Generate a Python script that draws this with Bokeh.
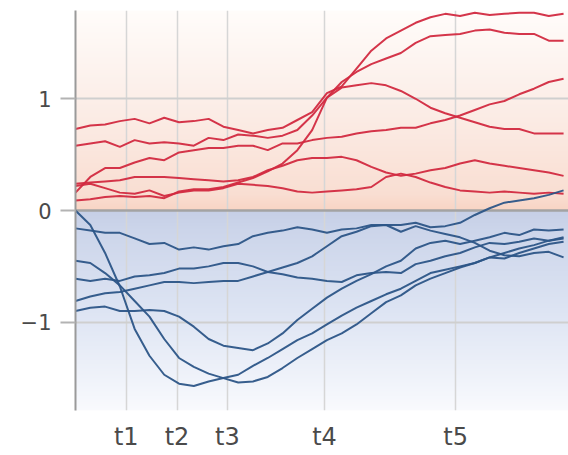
import numpy as np
from bokeh.plotting import figure
from bokeh.models import Range1d, FixedTicker
from bokeh.embed import file_html
from bokeh.resources import INLINE

# ---------------- data ----------------
t = list(range(0, 100, 3))  # sample times (34 points)

red_1 = [0.73, 0.76, 0.77, 0.80, 0.82, 0.78, 0.83, 0.79, 0.80, 0.82, 0.75, 0.72, 0.69, 0.72, 0.74, 0.81, 0.88,
         1.05, 1.11, 1.27, 1.43, 1.54, 1.61, 1.68, 1.73, 1.76, 1.74, 1.77, 1.75, 1.76, 1.77, 1.77, 1.74, 1.76]
red_2 = [0.58, 0.60, 0.62, 0.57, 0.63, 0.60, 0.61, 0.60, 0.58, 0.65, 0.63, 0.68, 0.67, 0.65, 0.67, 0.72, 0.85,
         1.01, 1.15, 1.24, 1.31, 1.36, 1.41, 1.50, 1.56, 1.57, 1.58, 1.61, 1.62, 1.59, 1.58, 1.58, 1.52, 1.52]
red_3 = [0.16, 0.30, 0.38, 0.38, 0.43, 0.47, 0.45, 0.52, 0.54, 0.56, 0.56, 0.58, 0.58, 0.54, 0.60, 0.60, 0.63,
         0.65, 0.66, 0.69, 0.71, 0.72, 0.74, 0.74, 0.78, 0.81, 0.85, 0.90, 0.95, 0.98, 1.04, 1.09, 1.15, 1.18]
red_4 = [0.09, 0.10, 0.12, 0.13, 0.12, 0.13, 0.11, 0.17, 0.19, 0.19, 0.21, 0.25, 0.29, 0.35, 0.42, 0.54, 0.72,
         1.01, 1.10, 1.12, 1.14, 1.12, 1.07, 1.00, 0.92, 0.87, 0.83, 0.79, 0.75, 0.73, 0.73, 0.69, 0.69, 0.69]
red_5 = [0.24, 0.25, 0.26, 0.27, 0.30, 0.30, 0.30, 0.29, 0.28, 0.27, 0.26, 0.27, 0.30, 0.36, 0.40, 0.45, 0.47,
         0.47, 0.48, 0.45, 0.39, 0.34, 0.31, 0.33, 0.36, 0.38, 0.42, 0.45, 0.42, 0.40, 0.38, 0.36, 0.34, 0.31]
red_6 = [0.22, 0.24, 0.20, 0.16, 0.15, 0.18, 0.13, 0.16, 0.18, 0.18, 0.20, 0.24, 0.23, 0.22, 0.20, 0.17, 0.16,
         0.17, 0.18, 0.19, 0.21, 0.30, 0.33, 0.30, 0.25, 0.21, 0.18, 0.17, 0.16, 0.17, 0.16, 0.15, 0.16, 0.15]

blue_1 = [-0.16, -0.18, -0.20, -0.20, -0.25, -0.30, -0.29, -0.35, -0.33, -0.35, -0.32, -0.30, -0.23, -0.20, -0.18,
          -0.15, -0.17, -0.20, -0.17, -0.16, -0.13, -0.13, -0.13, -0.11, -0.15, -0.14, -0.11, -0.04, 0.02, 0.07,
          0.09, 0.11, 0.14, 0.18]
blue_2 = [-0.61, -0.63, -0.61, -0.63, -0.59, -0.58, -0.56, -0.52, -0.52, -0.50, -0.47, -0.47, -0.50, -0.55, -0.57,
          -0.60, -0.61, -0.63, -0.64, -0.58, -0.56, -0.55, -0.56, -0.48, -0.45, -0.41, -0.38, -0.33, -0.29, -0.30,
          -0.28, -0.25, -0.27, -0.25]
blue_3 = [-0.81, -0.77, -0.74, -0.73, -0.70, -0.67, -0.64, -0.64, -0.65, -0.64, -0.63, -0.63, -0.59, -0.55, -0.51,
          -0.47, -0.41, -0.32, -0.23, -0.19, -0.14, -0.13, -0.19, -0.14, -0.18, -0.21, -0.24, -0.29, -0.36, -0.40,
          -0.41, -0.38, -0.37, -0.42]
blue_4 = [-0.90, -0.87, -0.86, -0.90, -0.90, -0.89, -0.90, -0.95, -1.04, -1.15, -1.21, -1.23, -1.25, -1.19, -1.10,
          -0.98, -0.88, -0.78, -0.70, -0.63, -0.57, -0.50, -0.45, -0.34, -0.29, -0.27, -0.30, -0.27, -0.24, -0.20,
          -0.22, -0.17, -0.18, -0.17]
blue_5 = [0.00, -0.13, -0.38, -0.68, -1.06, -1.30, -1.47, -1.55, -1.57, -1.53, -1.50, -1.47, -1.39, -1.32, -1.24,
          -1.16, -1.10, -1.02, -0.94, -0.87, -0.81, -0.75, -0.70, -0.63, -0.56, -0.53, -0.50, -0.47, -0.42, -0.43,
          -0.38, -0.34, -0.30, -0.28]
blue_6 = [-0.45, -0.47, -0.56, -0.67, -0.81, -0.95, -1.15, -1.32, -1.40, -1.46, -1.50, -1.54, -1.53, -1.49, -1.41,
          -1.32, -1.24, -1.16, -1.10, -1.02, -0.92, -0.82, -0.76, -0.67, -0.61, -0.56, -0.51, -0.47, -0.42, -0.38,
          -0.34, -0.31, -0.27, -0.24]

red_series = [red_1, red_2, red_3, red_4, red_5, red_6]
blue_series = [blue_1, blue_2, blue_3, blue_4, blue_5, blue_6]

tick_pos = [10.3, 20.6, 30.8, 50.5, 77.1]
tick_labels = ["t1", "t2", "t3", "t4", "t5"]
y_ticks = [-1, 0, 1]
y_labels = ["\u22121", "0", "1"]

# ---------------- figure ----------------
Y_MIN, Y_MAX = -1.79, 1.79
X_MAX = 100
FONT = "DejaVu Sans"
TEXT = "#4a4a4a"

p = figure(width=568, height=455, x_range=Range1d(0, X_MAX), y_range=Range1d(Y_MIN, Y_MAX),
           output_backend="svg", toolbar_location=None,
           min_border_left=75, min_border_right=0, min_border_top=10, min_border_bottom=45)
p.outline_line_color = None
p.background_fill_color = "white"
p.border_fill_color = "white"

# background gradient (style only)
def interp(stops, f):
    for (f0, c0), (f1, c1) in zip(stops[:-1], stops[1:]):
        if f0 <= f <= f1:
            k = (f - f0) / (f1 - f0) if f1 > f0 else 0
            return [c0[j] + (c1[j] - c0[j]) * k for j in range(3)]
    return list(stops[-1][1])

up_stops = [(0.0, (248, 212, 196)), (0.08, (249, 222, 210)), (0.45, (251, 235, 228)),
            (0.75, (253, 244, 240)), (1.0, (255, 252, 250))]
dn_stops = [(0.0, (198, 207, 230)), (0.1, (204, 213, 234)), (0.5, (221, 228, 243)),
            (0.85, (240, 243, 250)), (1.0, (249, 250, 253))]
n = 400
ys = np.linspace(Y_MIN, Y_MAX, n)
img = np.zeros((n, 1), dtype=np.uint32)
view = img.view(dtype=np.uint8).reshape((n, 1, 4))
for i, yv in enumerate(ys):
    if yv >= 0:
        c = interp(up_stops, yv / Y_MAX)
    else:
        c = interp(dn_stops, -yv / -Y_MIN)
    view[i, 0, 0:3] = [int(round(v)) for v in c]
    view[i, 0, 3] = 255
p.image_rgba(image=[img], x=0, y=Y_MIN, dw=X_MAX, dh=Y_MAX - Y_MIN, level="image")

# grids
p.xgrid.ticker = FixedTicker(ticks=tick_pos)
p.xgrid.grid_line_color = "#d6d6d6"
p.xgrid.grid_line_width = 1.5
p.ygrid.ticker = FixedTicker(ticks=[-1, 1])
p.ygrid.grid_line_color = "#cfcfcf"
p.ygrid.grid_line_width = 2

# zero line
p.line(x=[0, X_MAX], y=[0, 0], line_color="#a3a3a3", line_width=2.5)

for s in red_series:
    p.line(t, s, line_color="#d22a40", line_width=2, line_alpha=0.95)
for s in blue_series:
    p.line(t, s, line_color="#2c5587", line_width=2, line_alpha=0.95)

# axes
p.xaxis.ticker = FixedTicker(ticks=tick_pos)
p.xaxis.major_label_overrides = dict(zip(tick_pos, tick_labels))
p.xaxis.axis_line_color = None
p.xaxis.major_tick_line_color = None
p.xaxis.minor_tick_line_color = None
p.xaxis.major_tick_out = 0
p.xaxis.major_tick_in = 0
p.xaxis.major_label_standoff = 12
p.xaxis.major_label_text_font = FONT
p.xaxis.major_label_text_font_size = "24px"
p.xaxis.major_label_text_color = TEXT

p.yaxis.ticker = FixedTicker(ticks=y_ticks)
p.yaxis.major_label_overrides = dict(zip(y_ticks, y_labels))
p.yaxis.axis_line_color = "#9a9a9a"
p.yaxis.axis_line_width = 2
p.yaxis.major_tick_out = 15
p.yaxis.major_tick_in = 0
p.yaxis.major_tick_line_color = "#b3b3b3"
p.yaxis.major_tick_line_width = 2
p.yaxis.minor_tick_line_color = None
p.yaxis.major_label_standoff = 9
p.yaxis.major_label_text_font = FONT
p.yaxis.major_label_text_font_size = "21px"
p.yaxis.major_label_text_color = TEXT

open("out.html", "w").write(file_html(p, INLINE))
